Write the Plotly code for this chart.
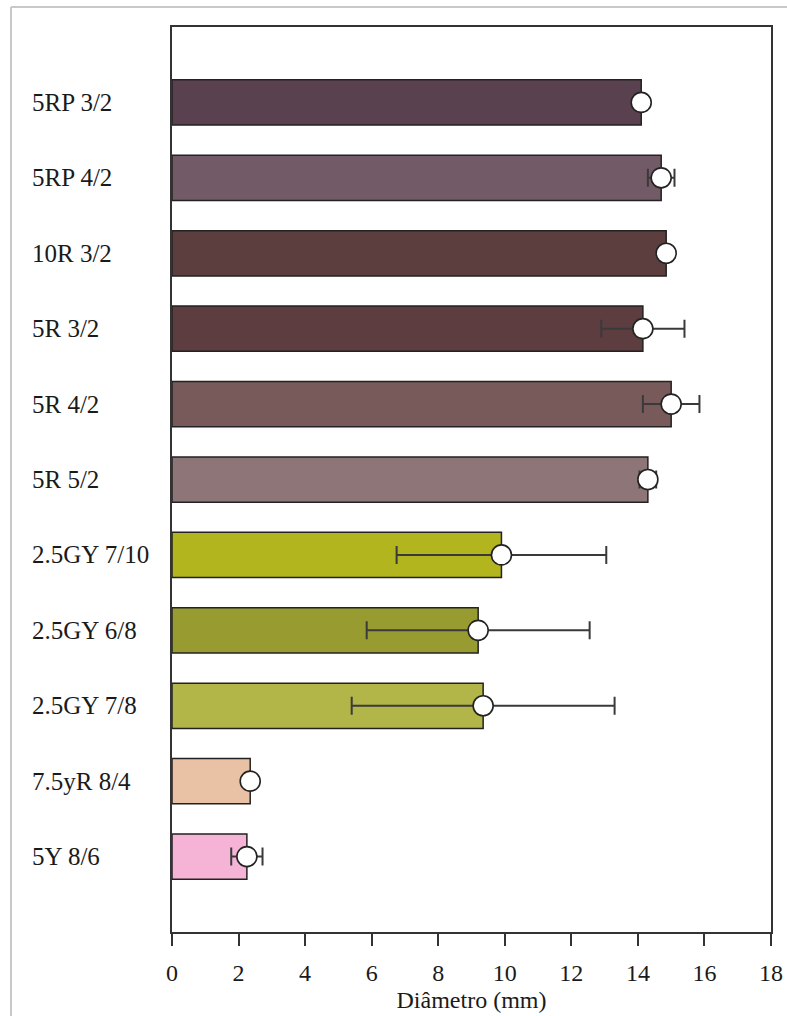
import plotly.graph_objects as go

# Munsell colour chips, top to bottom
categories = ["5RP 3/2", "5RP 4/2", "10R 3/2", "5R 3/2", "5R 4/2", "5R 5/2",
              "2.5GY 7/10", "2.5GY 6/8", "2.5GY 7/8", "7.5yR 8/4", "5Y 8/6"]
# mean diameter (mm) and standard deviation
diameter = [14.1, 14.7, 14.85, 14.15, 15.0, 14.3, 9.9, 9.2, 9.35, 2.35, 2.25]
std_dev = [0.05, 0.4, 0.05, 1.25, 0.85, 0.25, 3.15, 3.35, 3.95, 0.12, 0.47]
bar_colors = ["#5a414f", "#735a67", "#5d3e3e", "#5e3d40", "#785a5b", "#8e7577",
              "#b2b51d", "#989c30", "#b2b548", "#e9c2a6", "#f5b3d6"]
x_ticks = [0, 2, 4, 6, 8, 10, 12, 14, 16, 18]

FONT = "Liberation Serif, Times New Roman, serif"
W, H = 787, 1016
L, R, T, B = 172, 16, 27, 84

fig = go.Figure()
fig.add_trace(go.Bar(
    y=categories, x=diameter, orientation="h", width=0.6,
    marker=dict(color=bar_colors, line=dict(color="#222222", width=1.5)),
    showlegend=False, hoverinfo="skip",
))
fig.add_trace(go.Scatter(
    y=categories, x=diameter, mode="markers",
    marker=dict(symbol="circle", size=20, color="white",
                line=dict(color="#222222", width=1.6)),
    error_x=dict(type="data", array=std_dev, visible=True,
                 color="#3a3a3a", thickness=2, width=9),
    showlegend=False, hoverinfo="skip",
))

pw, ph = W - L - R, H - T - B
def px(x):
    return (x - L) / pw
def py(y):
    return (H - B - y) / ph

# left-aligned category labels
annotations = []
for c in categories:
    annotations.append(dict(
        x=px(30), xref="paper", xanchor="left",
        y=c, yref="y", yanchor="middle",
        text=c, showarrow=False,
        font=dict(family=FONT, size=25, color="#1a1a1a"),
    ))

shapes = [
    # outer page frame
    dict(type="line", xref="paper", yref="paper", x0=px(11), x1=px(800),
         y0=py(7), y1=py(7), line=dict(color="#c8c8c8", width=2)),
    dict(type="line", xref="paper", yref="paper", x0=px(11), x1=px(11),
         y0=py(7), y1=py(1030), line=dict(color="#c8c8c8", width=2)),
]

fig.update_layout(
    width=W, height=H,
    margin=dict(l=L, r=R, t=T, b=B, autoexpand=False),
    paper_bgcolor="white", plot_bgcolor="white",
    font=dict(family=FONT, size=24, color="#1a1a1a"),
    annotations=annotations, shapes=shapes,
    bargap=0.4,
)
fig.update_xaxes(
    automargin=False,
    range=[0, 18], tickvals=x_ticks, ticktext=[str(v) for v in x_ticks],
    showgrid=False, zeroline=False,
    showline=True, mirror=True, linecolor="#333333", linewidth=2,
    ticks="outside", ticklen=12, tickwidth=2, tickcolor="#333333",
    ticklabelstandoff=6,
    tickfont=dict(family=FONT, size=24, color="#1a1a1a"),
    title=dict(text="Diâmetro (mm)", standoff=6,
               font=dict(family=FONT, size=24, color="#1a1a1a")),
)
fig.update_yaxes(
    automargin=False,
    type="category", categoryorder="array", categoryarray=categories,
    range=[11, -1], showticklabels=False, showgrid=False, zeroline=False,
    showline=True, mirror=True, linecolor="#333333", linewidth=2, ticks="",
)

fig.write_html("out.html")
